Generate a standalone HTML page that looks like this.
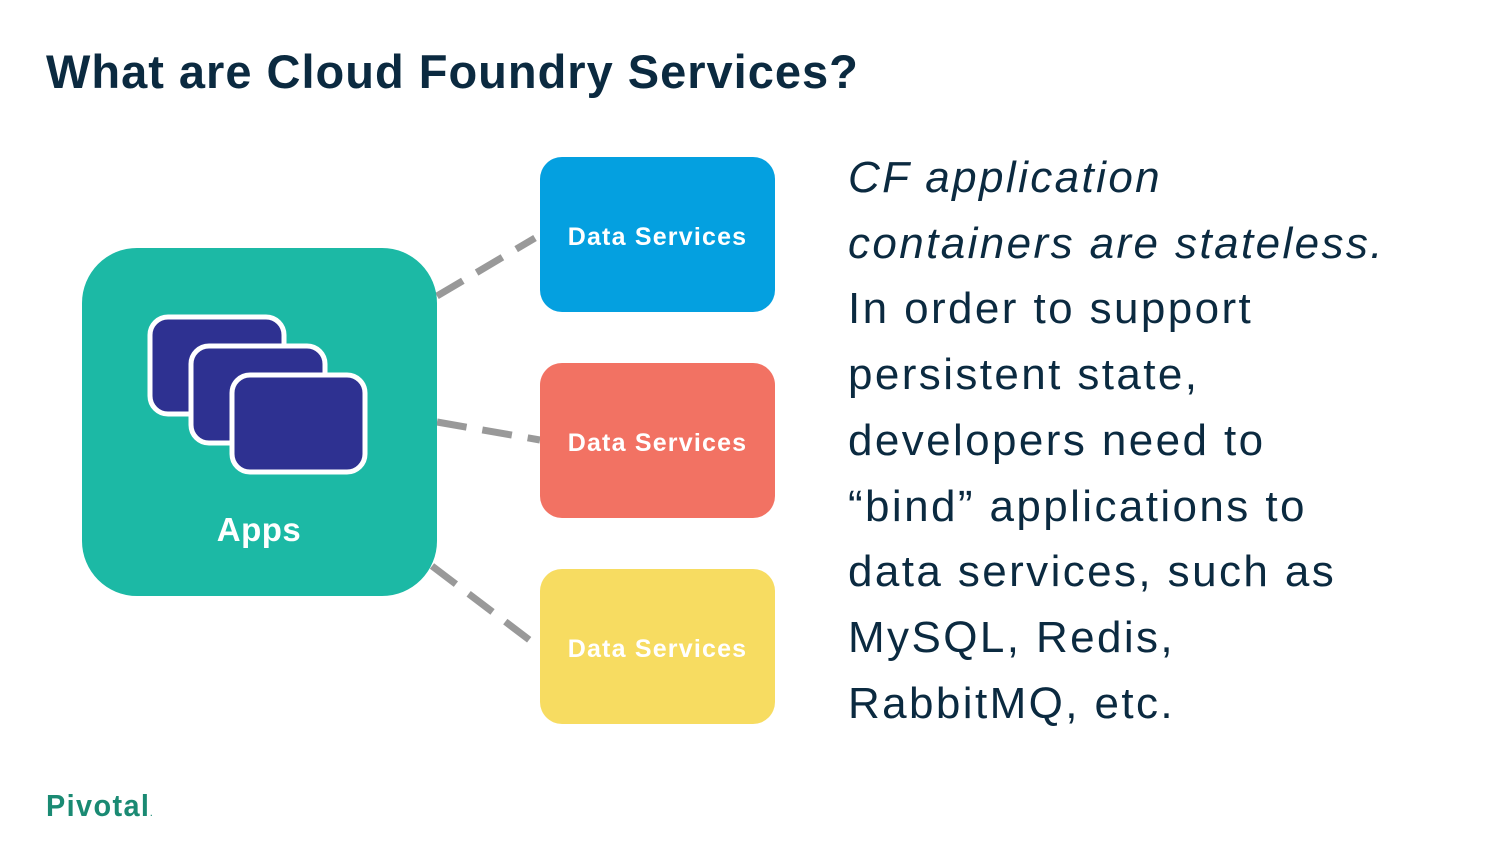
<!DOCTYPE html>
<html><head><style>
body{margin:0;width:1500px;height:844px;background:#fff;position:relative;overflow:hidden;font-family:"Liberation Sans",sans-serif}
.t{position:absolute;left:46px;top:44px;font-size:47px;font-weight:bold;color:#0b2a40;letter-spacing:1px}
.p{position:absolute;left:848px;top:145px;font-size:44px;line-height:65.7px;color:#0b2a40;letter-spacing:2.4px}
.ds{position:absolute;left:540px;width:235px;height:155px;border-radius:22px;color:#fff;font-weight:bold;font-size:25px;display:flex;align-items:center;justify-content:center;letter-spacing:1.2px;box-sizing:border-box;padding-top:6px}
.logo{position:absolute;left:46px;top:788px;font-size:31px;color:#1a8a73;letter-spacing:1.5px;font-weight:bold;transform:scaleX(0.93);transform-origin:left}
</style></head><body>
<div class="t">What are Cloud Foundry Services?</div>
<svg width="1500" height="844" style="position:absolute;left:0;top:0">
<g stroke="#999" stroke-width="7" stroke-dasharray="30,16" fill="none">
<line x1="437" y1="296" x2="535" y2="238"/>
<line x1="437" y1="422" x2="540" y2="440"/>
<line x1="432" y1="566" x2="540" y2="648"/>
</g>
<rect x="82" y="248" width="355" height="348" rx="55" fill="#1cb9a5"/>
<g fill="#2e3191" stroke="#fff" stroke-width="5">
<rect x="150" y="317" width="134" height="97" rx="18"/>
<rect x="191" y="346" width="134" height="97" rx="18"/>
<rect x="232" y="375" width="133" height="97" rx="18"/>
</g>
<text x="259" y="541" text-anchor="middle" font-family="Liberation Sans" font-weight="bold" font-size="33" fill="#fff" letter-spacing="0.5">Apps</text>
</svg>
<div class="ds" style="top:157px;background:#04a0e0">Data Services</div>
<div class="ds" style="top:363px;background:#f27263">Data Services</div>
<div class="ds" style="top:569px;background:#f7dc61">Data Services</div>
<div class="p"><i>CF application<br>containers are stateless.</i><br>In order to support<br>persistent state,<br>developers need to<br>“bind” applications to<br>data services, such as<br>MySQL, Redis,<br>RabbitMQ, etc.</div>
<div class="logo">Pivotal<span style="font-size:8px">.</span></div>
</body></html>
